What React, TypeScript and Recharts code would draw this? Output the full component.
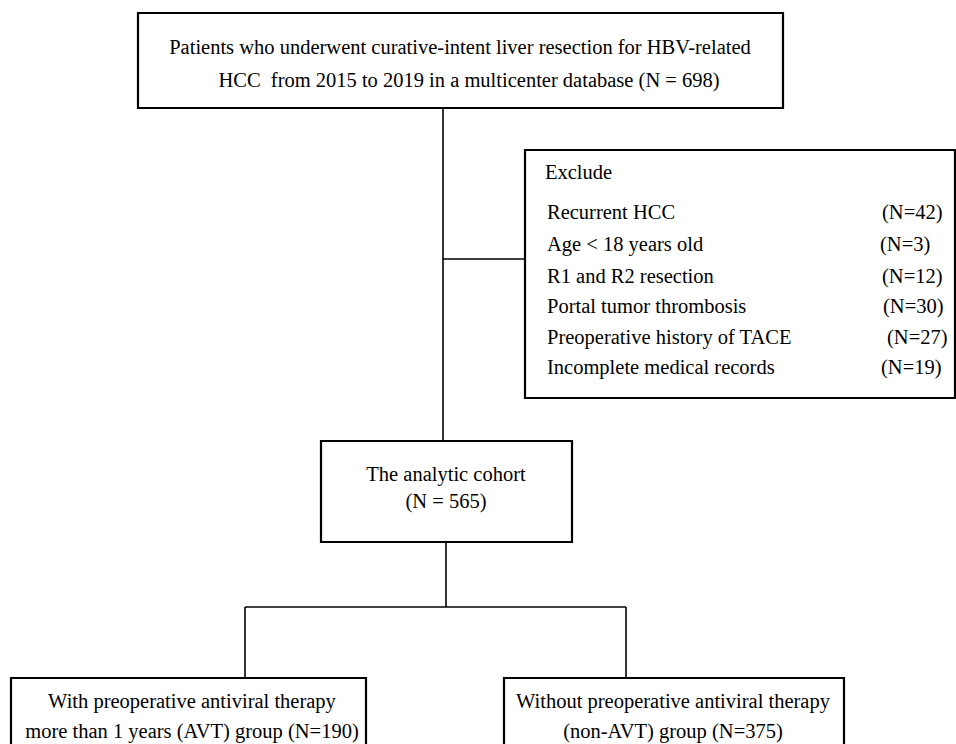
import React from "react";
import { ScatterChart, Scatter, XAxis, YAxis, ReferenceArea, ReferenceLine } from "recharts";

// ---- content ----
const TOTAL_N = 698;
const TOP_LINES = [
  "Patients who underwent curative-intent liver resection for HBV-related",
  `HCC  from 2015 to 2019 in a multicenter database (N = ${TOTAL_N})`,
];
const EXCLUDE_TITLE = "Exclude";
const EXCLUDE_REASONS = [
  "Recurrent HCC",
  "Age < 18 years old",
  "R1 and R2 resection",
  "Portal tumor thrombosis",
  "Preoperative history of TACE",
  "Incomplete medical records",
];
const EXCLUDE_COUNTS = [42, 3, 12, 30, 27, 19];
const COHORT_LABEL = "The analytic cohort";
const COHORT_N = 565;
const GROUP_N = [190, 375];
const GROUP_LINES = [
  ["With preoperative antiviral therapy", `more than 1 years (AVT) group (N=${GROUP_N[0]})`],
  ["Without preoperative antiviral therapy", `(non-AVT) group (N=${GROUP_N[1]})`],
];

// ---- layout (flowchart units = pixels) ----
const W = 956;
const H = 744;
const L = {
  top: { x1: 138, x2: 783, y1: 13, y2: 108, cx: [460, 469], lines: [47, 80] },
  mainX: 443,
  exBranchY: 259,
  ex: { x1: 525, x2: 955, y1: 150, y2: 398, titleX: 545, titleY: 172, itemX: 547, itemY: [212, 244, 276, 306, 337, 367], countX: [882, 880, 882, 883, 887, 881] },
  co: { x1: 321, x2: 572, y1: 441, y2: 542, cx: 446, lines: [474, 501] },
  coX: 446,
  splitY: 607,
  groupX: [245, 626],
  groups: [
    { x1: 11, x2: 366, cx: 192 },
    { x1: 504, x2: 844, cx: 673 },
  ],
  groupY1: 678,
  groupLines: [701, 731],
};

type T = { x: number; y: number; text: string; anchor: "start" | "middle" };
const texts: T[] = [];
TOP_LINES.forEach((t, i) => texts.push({ x: L.top.cx[i], y: L.top.lines[i], text: t, anchor: "middle" }));
texts.push({ x: L.ex.titleX, y: L.ex.titleY, text: EXCLUDE_TITLE, anchor: "start" });
EXCLUDE_REASONS.forEach((t, i) => {
  texts.push({ x: L.ex.itemX, y: L.ex.itemY[i], text: t, anchor: "start" });
  texts.push({ x: L.ex.countX[i], y: L.ex.itemY[i], text: `(N=${EXCLUDE_COUNTS[i]})`, anchor: "start" });
});
texts.push({ x: L.co.cx, y: L.co.lines[0], text: COHORT_LABEL, anchor: "middle" });
texts.push({ x: L.co.cx, y: L.co.lines[1], text: `(N = ${COHORT_N})`, anchor: "middle" });
GROUP_LINES.forEach((lines, g) =>
  lines.forEach((t, i) => texts.push({ x: L.groups[g].cx, y: L.groupLines[i], text: t, anchor: "middle" }))
);

const FONT = "'Liberation Serif', 'Times New Roman', serif";

const TextShape = (props: any) => {
  const { cx, cy, payload } = props;
  return (
    <text
      x={cx}
      y={cy}
      textAnchor={payload.anchor}
      dominantBaseline="central"
      fill="#000"
      style={{ whiteSpace: "pre", fontFamily: FONT, fontSize: 20.5 }}
    >
      {payload.text}
    </text>
  );
};

const box = (k: string, x1: number, x2: number, y1: number, y2: number) => (
  <ReferenceArea key={k} x1={x1} x2={x2} y1={y1} y2={y2} fill="#fff" fillOpacity={1} stroke="#000" strokeWidth={2.2} ifOverflow="visible" />
);
const seg = (k: string, x1: number, y1: number, x2: number, y2: number) => (
  <ReferenceLine key={k} segment={[{ x: x1, y: y1 }, { x: x2, y: y2 }]} stroke="#000" strokeWidth={1.6} ifOverflow="visible" />
);

export default function App() {
  return (
    <div style={{ position: "absolute", left: 0, top: 0, width: W, height: H, background: "#fff" }}>
      <ScatterChart width={W} height={H} margin={{ top: 0, right: 0, bottom: 0, left: 0 }}>
        <XAxis type="number" dataKey="x" domain={[0, W]} hide allowDataOverflow />
        <YAxis type="number" dataKey="y" domain={[0, H]} reversed hide allowDataOverflow />
        {seg("main", L.mainX, L.top.y2, L.mainX, L.co.y1)}
        {seg("exb", L.mainX, L.exBranchY, L.ex.x1, L.exBranchY)}
        {seg("cod", L.coX, L.co.y2, L.coX, L.splitY)}
        {seg("split", L.groupX[0], L.splitY, L.groupX[1], L.splitY)}
        {seg("g0", L.groupX[0], L.splitY, L.groupX[0], L.groupY1)}
        {seg("g1", L.groupX[1], L.splitY, L.groupX[1], L.groupY1)}
        {box("top", L.top.x1, L.top.x2, L.top.y1, L.top.y2)}
        {box("ex", L.ex.x1, L.ex.x2, L.ex.y1, L.ex.y2)}
        {box("co", L.co.x1, L.co.x2, L.co.y1, L.co.y2)}
        {L.groups.map((g, i) => box("g" + i, g.x1, g.x2, L.groupY1, H + 20))}
        <Scatter data={texts} shape={TextShape} isAnimationActive={false} />
      </ScatterChart>
    </div>
  );
}
